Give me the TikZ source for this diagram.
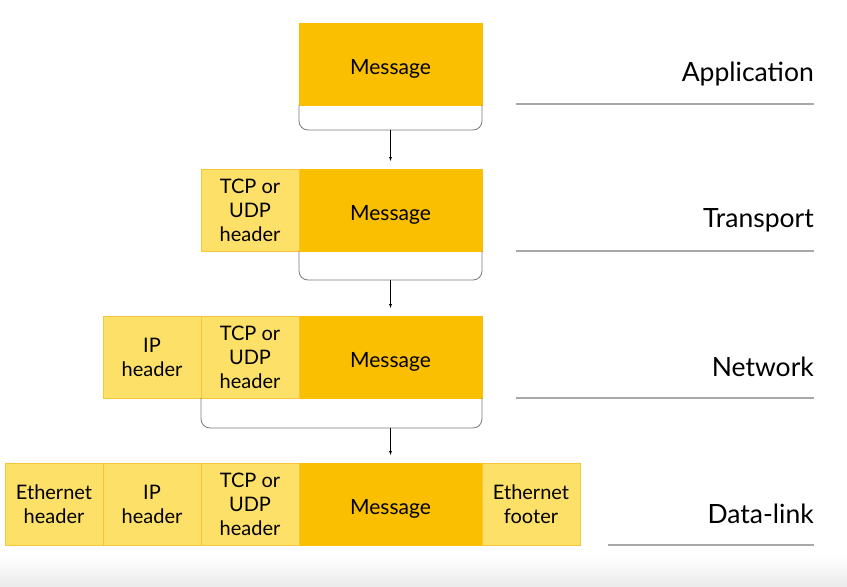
\documentclass[tikz,border=0pt]{standalone}
\usepackage{fontspec}
\setmainfont{Lato}
\usepackage{tikz}
\usetikzlibrary{positioning}

\definecolor{msgyellow}{HTML}{F9BF00}
\definecolor{hdryellow}{HTML}{FDE068}
\definecolor{hdredge}{HTML}{F4C73A}
\definecolor{rulegray}{HTML}{A8A8A8}
\definecolor{bracegray}{HTML}{7A7A7A}

\tikzset{
  msgbox/.style={fill=msgyellow, draw=msgyellow, minimum width=183pt, minimum height=82pt,
    inner sep=0pt, outer sep=0pt, text height=20pt, text depth=0pt,
    font=\fontsize{21}{24}\selectfont},
  hdrbox/.style={fill=hdryellow, draw=hdredge, line width=0.8pt, minimum width=98pt,
    minimum height=82pt, inner sep=0pt, outer sep=0pt, align=center,
    font=\fontsize{20}{24}\selectfont},
  layername/.style={anchor=east, inner sep=0pt, font=\fontsize{26.5}{30}\selectfont},
  layerrule/.style={draw=rulegray, line width=1.3pt},
  wrapbrace/.style={draw=bracegray, line width=0.8pt, rounded corners=9pt},
}

\begin{document}
\begin{tikzpicture}[x=1pt, y=-1pt]
        \useasboundingbox (0,0) rectangle (847,587);
        \shade[top color=white, bottom color=black!8] (0,555) rectangle (847,587);

        % Application
        \node[msgbox] (appmsg) at (390.5,64) {Message};
        \node[layername] (appname) at (814,74) {Application};
        \coordinate (apprulestart) at (516,104);
        \draw[layerrule] (apprulestart) -- (apprulestart -| appname.east);
        \draw[wrapbrace] (appmsg.south west) -- ++(0,25) -| (appmsg.south east);

        % Transport
        \node[msgbox] (trmsg) at (390.5,210) {Message};
        \node[hdrbox, left=0pt of trmsg] (trtcp) {TCP or\\UDP\\header};
        \node[layername] (trname) at (814,220) {Transport};
        \coordinate (trrulestart) at (516,251);
        \draw[layerrule] (trrulestart) -- (trrulestart -| trname.east);
        \draw[wrapbrace] (trmsg.south west) -- ++(0,29) -| (trmsg.south east);

        % Network
        \node[msgbox] (netmsg) at (390.5,357) {Message};
        \node[hdrbox, left=0pt of netmsg] (nettcp) {TCP or\\UDP\\header};
        \node[hdrbox, left=0pt of nettcp] (netip) {IP\\header};
        \node[layername] (netname) at (814,367) {Network};
        \coordinate (netrulestart) at (516,398);
        \draw[layerrule] (netrulestart) -- (netrulestart -| netname.east);
        \draw[wrapbrace] (nettcp.south west) -- ++(0,30) -| (netmsg.south east);

        % Data-link
        \node[msgbox] (dlmsg) at (390.5,504) {Message};
        \node[hdrbox, left=0pt of dlmsg] (dltcp) {TCP or\\UDP\\header};
        \node[hdrbox, left=0pt of dltcp] (dlip) {IP\\header};
        \node[hdrbox, left=0pt of dlip] (dleth) {Ethernet\\header};
        \node[hdrbox, right=0pt of dlmsg] (dlfoot) {Ethernet\\footer};
        \node[layername] (dlname) at (814,514) {Data-link};
        \coordinate (dlrulestart) at (608,545);
        \draw[layerrule] (dlrulestart) -- (dlrulestart -| dlname.east);

        % Draw arrows
        \draw[-latex, shorten >=8pt] ([yshift=-25pt]appmsg.south) -- (trmsg.north);
        \draw[-latex, shorten >=8pt] ([yshift=-29pt]trmsg.south) -- (netmsg.north);
        \draw[-latex, shorten >=8pt] ([yshift=-30pt]netmsg.south) -- (dlmsg.north);
\end{tikzpicture}
\end{document}
